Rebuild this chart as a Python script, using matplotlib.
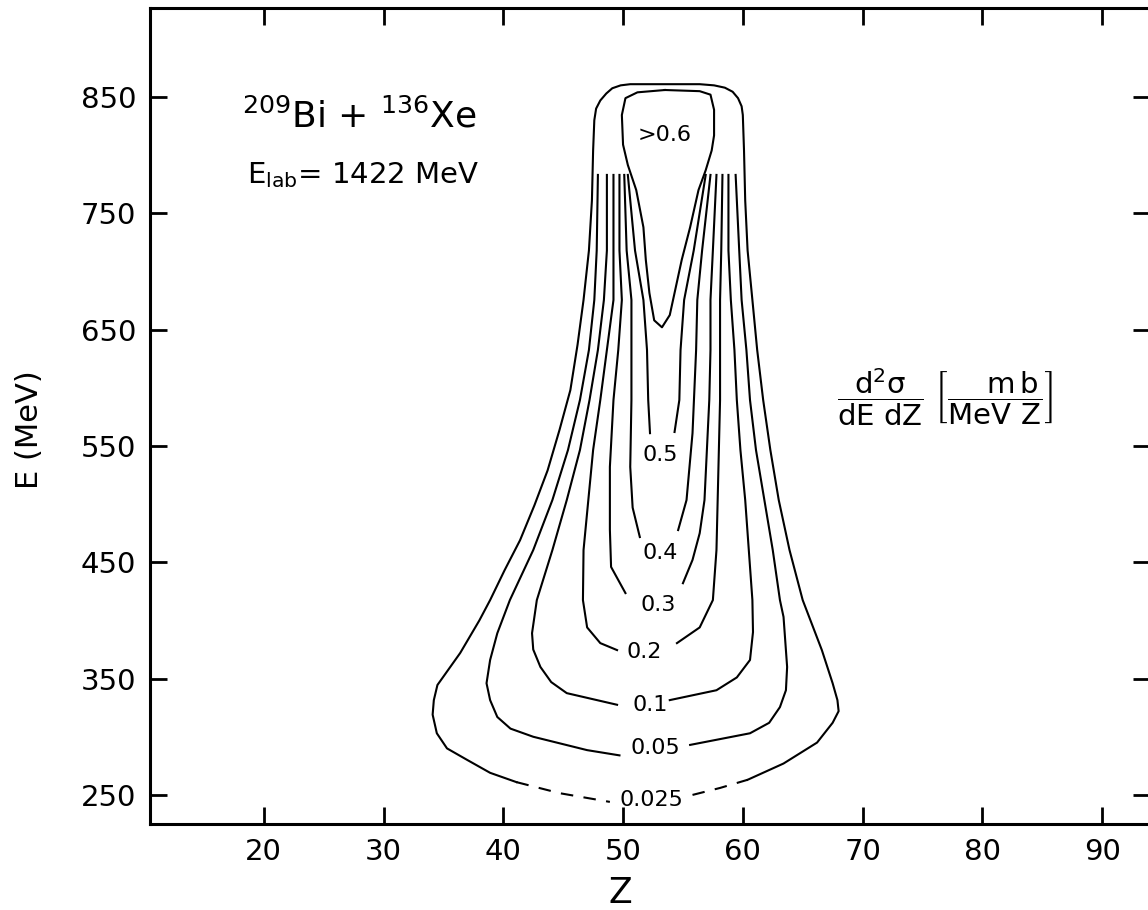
import matplotlib
matplotlib.use("Agg")
import matplotlib.pyplot as plt

plt.rcParams['font.family'] = ['DejaVu Sans']
plt.rcParams['mathtext.fontset'] = 'dejavusans'
plt.rcParams['mathtext.default'] = 'regular'

# contour lines, (Z, E in MeV)
# 0.025 : solid part (left end of dash -> round the top -> right end of dash)
c0025_z = [41.1, 38.9, 37.0, 35.3, 34.45, 34.1, 34.2, 34.5, 34.95, 36.4, 38.0, 38.9,
           40.1, 41.4, 42.6, 43.7, 44.7, 45.6, 46.2, 46.7, 47.15, 47.4, 47.5, 47.6,
           47.75, 48.1, 48.6, 49.1, 49.8, 50.6, 56.4, 57.6, 58.5, 59.15, 59.6, 59.9,
           60.0, 60.1, 60.2, 60.4, 60.8, 61.2,
           61.7, 62.3, 63.0, 63.9, 65.0, 66.6, 67.5, 67.9, 68.0, 67.5, 66.2, 64.8, 63.4,
           61.9, 60.4]
c0025_e = [261, 269, 280, 290, 303, 319, 331.5, 344.5, 351, 372, 400, 417.5,
           443, 469, 499, 529, 564, 598, 637, 675.5, 718, 761, 804, 830,
           840, 847, 853, 857.5, 860, 861, 861, 860, 858, 854.5, 849, 842,
           834.5, 804, 761, 718, 675.5, 632.5,
           589.5, 546.5, 503.5, 460.5, 417.5, 374.5, 346, 331.5, 322, 312, 295, 286, 277,
           270, 263]
# 0.025 : dashed bottom, left and right of its label
dash_l_z = [41.1, 44.7, 48.9]
dash_l_e = [261, 251.5, 244]
dash_r_z = [55.8, 58.1, 60.4]
dash_r_e = [250, 256, 263]

c005_z = [47.9, 47.8, 47.6, 47.15, 46.4, 45.4, 44.1, 42.5, 40.55, 39.5, 38.9, 38.6,
          38.9, 39.5, 40.6, 42.5, 47.0, 49.7]
c005_e = [783, 718, 675.5, 632.5, 589.5, 546.5, 503.5, 460.5, 417.5, 389, 366, 346,
          331.5, 317, 307, 300, 288.5, 284]
c005r_z = [55.6, 60.6, 62.2, 63.1, 63.6, 63.7, 63.4, 63.1, 62.5, 61.8, 61.1, 60.6, 60.3,
           59.9, 59.7, 59.4]
c005r_e = [293, 303, 312, 325.5, 340, 360, 403, 417.5, 460.5, 503.5, 546.5, 589.5, 632.5,
           675.5, 718, 783]

c01_z = [48.65, 48.65, 48.4, 47.9, 47.2, 46.4, 45.3, 44.1, 42.8, 42.4, 42.5, 43.1, 44.0,
         45.3, 49.5]
c01_e = [783, 718, 675.5, 632.5, 589.5, 546.5, 503.5, 460.5, 417.5, 389, 375, 360, 347,
         337.5, 327.5]
c01r_z = [53.9, 57.8, 59.5, 60.6, 60.85, 60.8, 60.5, 60.2, 59.8, 59.5, 59.3, 59.0, 58.8, 58.8]
c01r_e = [331.5, 340, 351, 366, 390, 417.5, 460.5, 503.5, 546.5, 589.5, 632.5, 675.5, 718, 783]

c02_z = [49.2, 49.2, 49.2, 48.65, 48.1, 47.5, 47.1, 46.7, 46.65, 47.0, 48.1, 49.5]
c02_e = [783, 718, 675.5, 632.5, 589.5, 546.5, 503.5, 460.5, 417.5, 394, 380.5, 374.5]
c02r_z = [54.5, 56.4, 57.5, 57.8, 57.9, 58.0, 58.1, 58.1, 58.1, 58.2, 58.3]
c02r_e = [380.5, 394, 417.5, 460.5, 503.5, 546.5, 589.5, 632.5, 675.5, 718, 783]

c03_z = [49.7, 49.7, 49.9, 49.6, 49.2, 48.9, 48.9, 49.0, 50.2]
c03_e = [783, 718, 675.5, 632.5, 589.5, 532, 478, 446, 423.5]
c03r_z = [55.0, 55.8, 56.4, 56.8, 57.0, 57.2, 57.3, 57.3, 57.5, 57.8]
c03r_e = [432, 452, 475, 503.5, 546.5, 589.5, 632.5, 675.5, 718, 783]

c04_z = [50.1, 50.3, 50.7, 50.7, 50.7, 50.6, 50.8, 51.4]
c04_e = [783, 718, 675.5, 632.5, 589.5, 532, 497, 471.7]
c04r_z = [54.6, 55.3, 55.8, 56.1, 56.2, 56.6, 57.3]
c04r_e = [477.7, 503.5, 561, 632.5, 675.5, 718, 783]

c05_z = [50.4, 51.0, 51.7, 52.0, 52.1, 52.25]
c05_e = [783, 718, 675.5, 632.5, 589.5, 561]
c05r_z = [54.3, 54.7, 54.8, 55.1, 55.9, 56.9]
c05r_e = [562, 589.5, 632.5, 675.5, 718, 783]

c06_z = [53.5, 56.4, 57.3, 57.6, 57.6, 57.4, 56.9, 56.3, 55.6, 54.9, 54.3, 53.9, 53.25,
         52.6, 52.2, 51.9, 51.7, 51.1, 50.4, 50.0, 49.9, 50.2, 51.2, 53.5]
c06_e = [856, 855, 852, 839, 817, 804, 787, 770, 738, 710, 681.5, 662.5, 652,
         658, 681.5, 710, 738, 770, 791.5, 809, 834.5, 849, 854, 856]

labels = ['>0.6', '0.5', '0.4', '0.3', '0.2', '0.1', '0.05', '0.025']
label_z = [53.5, 53.1, 53.1, 52.9, 51.8, 52.25, 52.7, 52.4]
label_e = [817, 542, 458, 413, 372.5, 327.5, 290, 246]

xticks = [20, 30, 40, 50, 60, 70, 80, 90]
yticks = [250, 350, 450, 550, 650, 750, 850]

fig = plt.figure(figsize=(11.48, 9.10), dpi=100)
ax = fig.add_axes([150 / 1148, 86 / 910, 1000 / 1148, 816 / 910])

lw = 1.5
ax.plot(c0025_z, c0025_e, color='black', lw=lw)
ax.plot(dash_l_z, dash_l_e, color='black', lw=lw, ls=(0, (6, 5)))
ax.plot(dash_r_z, dash_r_e, color='black', lw=lw, ls=(0, (6, 5)))
for zz, ee in [(c005_z, c005_e), (c005r_z, c005r_e), (c01_z, c01_e), (c01r_z, c01r_e),
               (c02_z, c02_e), (c02r_z, c02r_e), (c03_z, c03_e), (c03r_z, c03r_e),
               (c04_z, c04_e), (c04r_z, c04r_e), (c05_z, c05_e), (c05r_z, c05r_e),
               (c06_z, c06_e)]:
    ax.plot(zz, ee, color='black', lw=lw)

for t, zz, ee in zip(labels, label_z, label_e):
    ax.text(zz, ee, t, fontsize=16, ha='center', va='center')

ax.set_xlim(10.5, 94.0)
ax.set_ylim(225, 926.5)
ax.set_xticks(xticks)
ax.set_yticks(yticks)
ax.tick_params(direction='in', length=12, width=2, labelsize=21, pad=10,
               top=True, right=True)
for s in ax.spines.values():
    s.set_linewidth(2.2)

ax.text(18.2, 824, r'$^{209}$Bi + $^{136}$Xe', fontsize=26, va='baseline')
ax.text(18.6, 776, r'E$_{lab}$= 1422 MeV', fontsize=21, va='baseline')
ax.text(67.9, 592, r'$\dfrac{d^2\sigma}{dE\ dZ}\ \left[\dfrac{\ \ \ \ m\,b}{MeV\ Z}\right]$',
        fontsize=21, va='center')

fig.text(30 / 1148, 1 - 430 / 910, 'E (MeV)', rotation=90, fontsize=22,
         ha='center', va='center')
fig.text(620 / 1148, 1 - 893 / 910, 'Z', fontsize=25, ha='center', va='center')

fig.savefig('out.png', dpi=100)
